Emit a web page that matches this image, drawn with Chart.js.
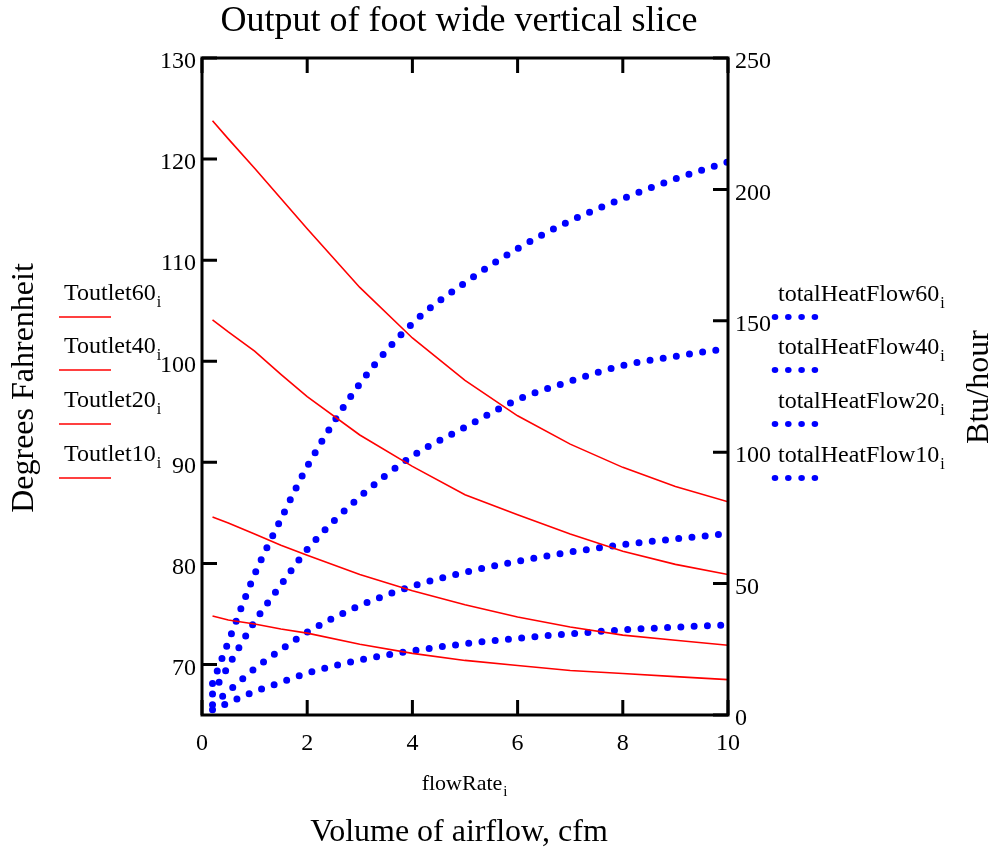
<!DOCTYPE html>
<html>
<head>
<meta charset="utf-8">
<script src="https://cdn.jsdelivr.net/npm/chart.js@4.4.1/dist/chart.umd.min.js"></script>
<style>
  html, body { margin: 0; padding: 0; background: #fff; }
  #wrap { width: 995px; height: 850px; }
</style>
</head>
<body>
<div id="wrap"><canvas id="chart" width="995" height="850"></canvas></div>
<script>
// flow rate (cfm) at which everything was sampled
const flowRate = [0.2, 0.5, 1, 1.5, 2, 3, 4, 5, 6, 7, 8, 9, 10];

// outlet temperature, deg F (left axis)
const toutlet60 = [123.8, 122.0, 119.1, 116.1, 113.1, 107.3, 102.3, 98.1, 94.6, 91.8, 89.5, 87.6, 86.1];
const toutlet40 = [104.1, 102.9, 101.0, 98.7, 96.5, 92.7, 89.6, 86.8, 84.8, 82.9, 81.2, 79.9, 78.9];
const toutlet20 = [84.6, 84.0, 82.9, 81.8, 80.8, 78.9, 77.3, 75.9, 74.7, 73.7, 72.9, 72.4, 71.9];
const toutlet10 = [74.8, 74.4, 74.0, 73.5, 73.1, 72.0, 71.1, 70.4, 69.9, 69.4, 69.1, 68.8, 68.5];

// total heat flow, Btu/hour (right axis)
const heat60 = [12.0, 27.8, 53.5, 74.5, 94.5, 126, 149, 164.5, 177.5, 188, 196.5, 204, 210.5];
const heat40 = [8, 18.6, 35.5, 49.5, 63, 83, 98.5, 109.5, 120, 127, 133, 136.5, 139.5];
const heat20 = [3.9, 9.0, 17.6, 24.8, 31.5, 41.6, 49.0, 54.3, 58.5, 62, 64.8, 67, 69];
const heat10 = [2.0, 4.6, 8.9, 12.4, 15.9, 20.9, 24.4, 27.1, 29.2, 30.9, 32.4, 33.4, 34.3];

const xTicks = [0, 2, 4, 6, 8, 10];
const leftTicks = [70, 80, 90, 100, 110, 120, 130];
const rightTicks = [0, 50, 100, 150, 200, 250];

const redNames = ['Toutlet60', 'Toutlet40', 'Toutlet20', 'Toutlet10'];
const blueNames = ['totalHeatFlow60', 'totalHeatFlow40', 'totalHeatFlow20', 'totalHeatFlow10'];

const SERIF = '"Liberation Serif", "DejaVu Serif", serif';
const RED = '#ff0000';
const BLUE = '#0000ff';

function pts(ys) {
  return flowRate.map((x, i) => ({ x: x, y: ys[i] }));
}

function redSet(label, ys) {
  return {
    label: label, data: pts(ys), yAxisID: 'y',
    borderColor: RED, borderWidth: 1.6, pointRadius: 0, tension: 0, fill: false
  };
}

function blueSet(label, ys) {
  return {
    label: label, data: pts(ys), yAxisID: 'y2',
    borderColor: BLUE, borderWidth: 7, borderDash: [0, 13.3], borderCapStyle: 'round',
    pointRadius: 0, cubicInterpolationMode: 'monotone', fill: false
  };
}

// text with a subscript i, Mathcad style
function subText(ctx, text, sub, x, y, size) {
  ctx.font = size + 'px ' + SERIF;
  ctx.textAlign = 'left';
  ctx.textBaseline = 'alphabetic';
  ctx.fillText(text, x, y);
  const w = ctx.measureText(text).width;
  ctx.font = Math.round(size * 0.68) + 'px ' + SERIF;
  ctx.fillText(sub, x + w + 1, y + size * 0.28);
}

const decor = {
  id: 'decor',
  afterDatasetsDraw(chart) {
    const ctx = chart.ctx;
    const a = chart.chartArea;
    const xs = chart.scales.x, yl = chart.scales.y, yr = chart.scales.y2;
    ctx.save();
    ctx.strokeStyle = '#000';
    ctx.lineWidth = 3;
    ctx.lineCap = 'butt';
    ctx.strokeRect(a.left, a.top, a.right - a.left, a.bottom - a.top);

    // ticks point into the plot
    const tl = 15;
    ctx.beginPath();
    xTicks.forEach(v => {
      const px = xs.getPixelForValue(v);
      ctx.moveTo(px, a.bottom); ctx.lineTo(px, a.bottom - tl);
      ctx.moveTo(px, a.top); ctx.lineTo(px, a.top + tl);
    });
    leftTicks.forEach(v => {
      const py = yl.getPixelForValue(v);
      ctx.moveTo(a.left, py); ctx.lineTo(a.left + tl, py);
    });
    rightTicks.forEach(v => {
      const py = yr.getPixelForValue(v);
      ctx.moveTo(a.right, py); ctx.lineTo(a.right - tl, py);
    });
    ctx.stroke();

    ctx.fillStyle = '#000';
    // title
    ctx.font = '36px ' + SERIF;
    ctx.textAlign = 'center';
    ctx.textBaseline = 'middle';
    ctx.fillText('Output of foot wide vertical slice', 459, 22);

    // x axis labels
    ctx.font = '22px ' + SERIF;
    const fw = ctx.measureText('flowRate').width;
    subText(ctx, 'flowRate', 'i', 466 - (fw + 8) / 2, 790, 22);
    ctx.font = '32px ' + SERIF;
    ctx.textAlign = 'center';
    ctx.textBaseline = 'middle';
    ctx.fillText('Volume of airflow, cfm', 459, 833);

    // vertical axis titles
    ctx.save();
    ctx.translate(25, 388);
    ctx.rotate(-Math.PI / 2);
    ctx.fillText('Degrees Fahrenheit', 0, 0);
    ctx.restore();
    ctx.save();
    ctx.translate(980, 387);
    ctx.rotate(-Math.PI / 2);
    ctx.fillText('Btu/hour', 0, 0);
    ctx.restore();

    // legends
    const rows = [292, 345, 399, 453];
    rows.forEach((ty, i) => {
      ctx.fillStyle = '#000';
      subText(ctx, redNames[i], 'i', 64, ty + 8, 24);
      ctx.strokeStyle = RED;
      ctx.lineWidth = 1.6;
      ctx.beginPath();
      ctx.moveTo(59, ty + 25); ctx.lineTo(111, ty + 25);
      ctx.stroke();

      ctx.fillStyle = '#000';
      subText(ctx, blueNames[i], 'i', 778, ty + 9, 24);
      ctx.fillStyle = BLUE;
      for (let k = 0; k < 4; k++) {
        ctx.beginPath();
        ctx.ellipse(775 + k * 13.3, ty + 25, 3.3, 3.0, 0, 0, Math.PI * 2);
        ctx.fill();
      }
    });
    ctx.restore();
  }
};

new Chart(document.getElementById('chart'), {
  type: 'line',
  data: {
    datasets: [
      redSet('Toutlet60', toutlet60),
      redSet('Toutlet40', toutlet40),
      redSet('Toutlet20', toutlet20),
      redSet('Toutlet10', toutlet10),
      blueSet('totalHeatFlow60', heat60),
      blueSet('totalHeatFlow40', heat40),
      blueSet('totalHeatFlow20', heat20),
      blueSet('totalHeatFlow10', heat10)
    ]
  },
  options: {
    responsive: false,
    animation: false,
    layout: { padding: { top: 58, left: 0, right: 0, bottom: 0 } },
    plugins: { legend: { display: false }, tooltip: { enabled: false }, title: { display: false } },
    scales: {
      x: {
        type: 'linear', min: 0, max: 10,
        afterBuildTicks: s => { s.ticks = xTicks.map(v => ({ value: v })); },
        afterFit: s => { s.height = 135; },
        grid: { display: false, drawTicks: false },
        border: { display: false },
        ticks: { color: '#000', font: { family: SERIF, size: 24 }, padding: 14, maxRotation: 0 }
      },
      y: {
        type: 'linear', position: 'left', min: 65, max: 130,
        afterBuildTicks: s => { s.ticks = leftTicks.map(v => ({ value: v })); },
        afterFit: s => { s.width = 202; },
        grid: { display: false, drawTicks: false },
        border: { display: false },
        ticks: { color: '#000', font: { family: SERIF, size: 24 }, padding: 6, labelOffset: 4 }
      },
      y2: {
        type: 'linear', position: 'right', min: 0, max: 250,
        afterBuildTicks: s => { s.ticks = rightTicks.map(v => ({ value: v })); },
        afterFit: s => { s.width = 267; },
        grid: { display: false, drawTicks: false },
        border: { display: false },
        ticks: { color: '#000', font: { family: SERIF, size: 24 }, padding: 7, labelOffset: 4 }
      }
    }
  },
  plugins: [decor]
});
</script>
</body>
</html>
